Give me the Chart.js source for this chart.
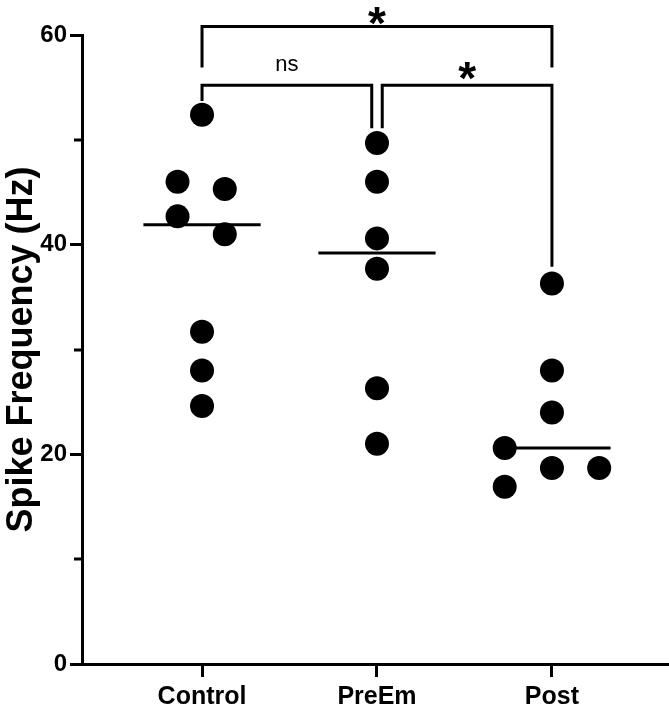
<!DOCTYPE html>
<html>
<head>
<meta charset="utf-8">
<script src="https://cdn.jsdelivr.net/npm/chart.js@4.4.1/dist/chart.umd.min.js"></script>
<style>
  html, body { margin: 0; padding: 0; background: #fff; }
  #spikeChart { display: block; }
</style>
</head>
<body>
<canvas id="spikeChart" width="669" height="706"></canvas>
<script>
var categories = ["Control", "PreEm", "Post"];

var controlValues = [52.4, 46.0, 45.3, 42.7, 41.0, 31.7, 28.0, 24.6];
var controlJitter = [0, -0.14, 0.13, -0.14, 0.13, 0, 0, 0];
var preEmValues = [49.7, 46.0, 40.6, 37.7, 26.3, 21.0];
var preEmJitter = [0, 0, 0, 0, 0, 0];
var postValues = [36.3, 28.0, 24.0, 20.6, 18.7, 18.7, 16.9];
var postJitter = [0, 0, 0, -0.27, 0, 0.27, -0.27];

var medians = [41.9, 39.2, 20.6];

var yTicks = [0, 20, 40, 60];
var yMinorTicks = [10, 30, 50];

// significance brackets (group positions, bar height, where each leg stops, label)
var bracketFrom = [0, 0, 1.03];
var bracketTo = [2, 0.97, 2];
var bracketTop = [60.8, 55.2, 55.2];
var bracketLeftEnd = [56.9, 53.7, 51.1];
var bracketRightEnd = [56.9, 51.1, 37.9];
var bracketLabels = ["*", "ns", "*"];

var FONT = '"Liberation Sans", Arial, sans-serif';

function groupPoints(values, jitter, index) {
    return values.map(function (v, i) {
        return { x: index + jitter[i], y: v };
    });
}

function lineSet(points) {
    return {
        data: points,
        showLine: true,
        borderColor: '#000',
        borderWidth: 3,
        pointRadius: 0,
        fill: false,
        clip: false
    };
}

var datasets = [];
[[controlValues, controlJitter], [preEmValues, preEmJitter], [postValues, postJitter]].forEach(function (g, i) {
    datasets.push({
        data: groupPoints(g[0], g[1], i),
        pointRadius: 12,
        pointBackgroundColor: '#000',
        pointBorderWidth: 0,
        clip: false
    });
});

medians.forEach(function (m, i) {
    datasets.push(lineSet([{ x: i - 0.335, y: m }, { x: i + 0.335, y: m }]));
});

bracketLabels.forEach(function (label, i) {
    datasets.push(lineSet([
        { x: bracketFrom[i], y: bracketLeftEnd[i] },
        { x: bracketFrom[i], y: bracketTop[i] },
        { x: bracketTo[i], y: bracketTop[i] },
        { x: bracketTo[i], y: bracketRightEnd[i] }
    ]));
});

// draws the "*" / "ns" above each bracket and the short minor ticks on y
var extras = {
    id: 'extras',
    afterDatasetsDraw: function (chart) {
        var ctx = chart.ctx, xs = chart.scales.x, ys = chart.scales.y;
        ctx.save();
        ctx.fillStyle = '#000';
        ctx.textAlign = 'center';
        ctx.textBaseline = 'alphabetic';
        bracketLabels.forEach(function (label, i) {
            var x = xs.getPixelForValue((bracketFrom[i] + bracketTo[i]) / 2);
            var y = ys.getPixelForValue(bracketTop[i]);
            if (label === '*') {
                ctx.font = 'bold 46px ' + FONT;
                ctx.fillText(label, x, y + (i === 0 ? 12 : 9));
            } else {
                ctx.font = '22px ' + FONT;
                ctx.fillText(label, x, y - 14);
            }
        });
        ctx.strokeStyle = '#000';
        ctx.lineWidth = 3;
        yMinorTicks.forEach(function (v) {
            var py = Math.round(ys.getPixelForValue(v));
            ctx.beginPath();
            ctx.moveTo(chart.chartArea.left - 8, py);
            ctx.lineTo(chart.chartArea.left, py);
            ctx.stroke();
        });
        ctx.restore();
    }
};

new Chart(document.getElementById('spikeChart'), {
    type: 'scatter',
    data: { datasets: datasets },
    plugins: [extras],
    options: {
        responsive: false,
        animation: false,
        devicePixelRatio: 1,
        layout: { autoPadding: false, padding: { top: 35, right: 0, left: 0, bottom: 0 } },
        plugins: {
            legend: { display: false },
            tooltip: { enabled: false }
        },
        scales: {
            x: {
                type: 'linear',
                min: -0.686,
                max: 2.669,
                afterBuildTicks: function (scale) {
                    scale.ticks = categories.map(function (c, i) { return { value: i }; });
                },
                afterFit: function (scale) { scale.height = 42; },
                grid: {
                    drawOnChartArea: false,
                    tickLength: 13,
                    tickWidth: 3,
                    tickColor: '#000'
                },
                border: { display: true, width: 3, color: '#000' },
                ticks: {
                    autoSkip: false,
                    maxRotation: 0,
                    padding: 5,
                    color: '#000',
                    font: { family: FONT, size: 25, weight: 'bold' },
                    callback: function (v) { return categories[v]; }
                }
            },
            y: {
                min: 0,
                max: 60,
                afterBuildTicks: function (scale) {
                    scale.ticks = yTicks.map(function (v) { return { value: v }; });
                },
                afterFit: function (scale) { scale.width = 82; },
                grid: {
                    drawOnChartArea: false,
                    tickLength: 12,
                    tickWidth: 3,
                    tickColor: '#000'
                },
                border: { display: true, width: 3, color: '#000' },
                ticks: {
                    padding: 3,
                    color: '#000',
                    font: { family: FONT, size: 24, weight: 'bold' }
                },
                title: {
                    display: true,
                    text: 'Spike Frequency (Hz)',
                    color: '#000',
                    padding: 0,
                    font: { family: FONT, size: 36, weight: 'bold' }
                }
            }
        }
    }
});
</script>
</body>
</html>
